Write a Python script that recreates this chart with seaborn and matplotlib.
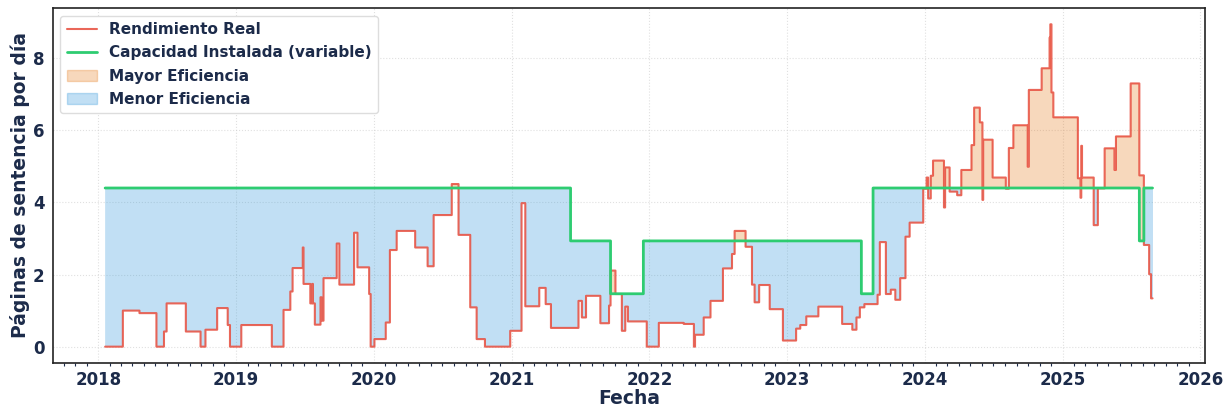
"""
Rendimiento real vs capacidad instalada (paginas de sentencia por dia)
Run: python plot.py  -> out.png
"""

import pandas as pd
import matplotlib.pyplot as plt
import matplotlib.dates as mdates
from matplotlib.lines import Line2D
from matplotlib.patches import Patch
import seaborn as sns

OUT_FILE = "out.png"

# Rendimiento real: fecha de cambio y valor desde esa fecha
REAL_FECHAS = [
    "2018-01-19", "2018-03-07", "2018-04-20", "2018-06-04", "2018-06-24",
    "2018-07-01", "2018-08-21", "2018-09-29", "2018-10-12", "2018-11-12",
    "2018-12-10", "2018-12-16", "2019-01-15", "2019-04-06", "2019-05-07",
    "2019-05-25", "2019-05-31", "2019-06-27", "2019-06-29", "2019-07-17",
    "2019-07-22", "2019-07-24", "2019-07-29", "2019-08-13", "2019-08-16",
    "2019-08-21", "2019-09-25", "2019-10-02", "2019-11-10", "2019-11-19",
    "2019-12-20", "2019-12-24", "2020-01-03", "2020-02-02", "2020-02-13",
    "2020-03-02", "2020-04-20", "2020-05-23", "2020-06-08", "2020-07-26",
    "2020-08-13", "2020-09-13", "2020-09-30", "2020-10-22", "2020-12-28",
    "2021-01-27", "2021-02-06", "2021-03-15", "2021-04-01", "2021-04-15",
    "2021-06-27", "2021-07-06", "2021-07-17", "2021-08-24", "2021-09-16",
    "2021-09-20", "2021-10-03", "2021-10-20", "2021-10-29", "2021-11-05",
    "2021-12-25", "2022-01-26", "2022-04-02", "2022-04-29", "2022-05-02",
    "2022-05-25", "2022-06-12", "2022-07-15", "2022-08-08", "2022-08-15",
    "2022-09-13", "2022-09-30", "2022-10-07", "2022-10-19", "2022-11-16",
    "2022-12-21", "2023-01-25", "2023-02-05", "2023-02-21", "2023-03-25",
    "2023-05-27", "2023-06-23", "2023-07-04", "2023-07-13", "2023-07-25",
    "2023-08-29", "2023-09-04", "2023-09-20", "2023-10-03", "2023-10-15",
    "2023-10-28", "2023-11-11", "2023-11-22", "2023-12-28", "2024-01-06",
    "2024-01-10", "2024-01-17", "2024-01-23", "2024-02-21", "2024-02-24",
    "2024-03-07", "2024-03-27", "2024-04-07", "2024-05-04", "2024-05-11",
    "2024-05-26", "2024-06-02", "2024-06-04", "2024-06-29", "2024-08-03",
    "2024-08-11", "2024-08-23", "2024-09-30", "2024-10-03", "2024-11-06",
    "2024-11-27", "2024-11-29", "2024-12-02", "2024-12-07", "2025-02-10",
    "2025-02-17", "2025-02-19", "2025-02-21", "2025-03-24", "2025-04-04",
    "2025-04-22", "2025-05-18", "2025-05-22", "2025-06-30", "2025-07-23",
    "2025-08-04", "2025-08-18", "2025-08-23", "2025-08-27",
]
REAL_VALORES = [
    0.00, 1.00, 0.93, 0.00, 0.42,
    1.20, 0.42, 0.00, 0.47, 1.07,
    0.60, 0.00, 0.60, 0.00, 1.02,
    1.53, 2.18, 2.75, 1.74, 1.20,
    1.74, 1.20, 0.61, 1.37, 0.72,
    1.90, 2.86, 1.72, 3.16, 2.20,
    1.46, 0.00, 0.21, 0.67, 2.68,
    3.21, 2.75, 2.23, 3.65, 4.51,
    3.10, 1.09, 0.21, 0.00, 0.44,
    3.98, 1.12, 1.63, 1.18, 0.52,
    1.27, 0.81, 1.41, 0.65, 1.14,
    2.11, 1.46, 0.44, 1.11, 0.70,
    0.00, 0.66, 0.63, 0.00, 0.33,
    0.81, 1.27, 2.17, 2.57, 3.21,
    2.77, 1.72, 1.23, 1.71, 1.04,
    0.17, 0.50, 0.60, 0.84, 1.11,
    0.63, 0.47, 0.81, 1.09, 1.18,
    1.44, 2.90, 1.46, 1.58, 1.30,
    1.90, 3.05, 3.44, 4.38, 4.69,
    4.11, 4.74, 5.16, 3.86, 4.97,
    4.30, 4.20, 4.90, 5.59, 6.63,
    6.22, 4.07, 5.74, 4.69, 4.38,
    5.51, 6.14, 4.99, 7.12, 7.72,
    8.57, 8.94, 7.05, 6.36, 4.67,
    4.13, 5.57, 4.69, 3.37, 4.39,
    5.50, 4.90, 5.83, 7.30, 4.75,
    2.82, 2.01, 1.34, 1.34,
]

# Capacidad instalada (variable)
CAP_FECHAS = [
    "2018-01-19", "2021-06-06", "2021-09-20", "2021-12-16", "2023-07-17",
    "2023-08-17", "2025-07-23", "2025-08-04", "2025-08-27",
]
CAP_VALORES = [4.400, 2.933, 1.467, 2.933, 1.467, 4.400, 2.933, 4.400, 4.400]

TEXTO = "#1c2b4a"
ROJO = "#e74c3c"
VERDE = "#2ecc71"
NARANJA = "#e67e22"
AZUL = "#3498db"


def main():
    sns.set_style("white")
    plt.rcParams["font.family"] = ["DejaVu Sans"]
    plt.rcParams["font.weight"] = "bold"
    plt.rcParams["axes.labelweight"] = "bold"
    plt.rcParams["text.color"] = TEXTO
    plt.rcParams["axes.labelcolor"] = TEXTO
    plt.rcParams["xtick.color"] = TEXTO
    plt.rcParams["ytick.color"] = TEXTO

    dias = pd.date_range(REAL_FECHAS[0], REAL_FECHAS[-1], freq="D")
    real = pd.Series(REAL_VALORES, index=pd.to_datetime(REAL_FECHAS)).reindex(dias, method="ffill")
    cap = pd.Series(CAP_VALORES, index=pd.to_datetime(CAP_FECHAS)).reindex(dias, method="ffill")
    df = pd.DataFrame({"Fecha": dias, "real": real.values, "cap": cap.values})

    fig, ax = plt.subplots(figsize=(12.27, 4.09), dpi=100)
    fig.subplots_adjust(left=0.043, right=0.982, bottom=0.113, top=0.98)

    ax.fill_between(df["Fecha"], df["real"], df["cap"], where=df["real"] >= df["cap"],
                    step="post", color=NARANJA, alpha=0.3, linewidth=0)
    ax.fill_between(df["Fecha"], df["real"], df["cap"], where=df["real"] < df["cap"],
                    step="post", color=AZUL, alpha=0.3, linewidth=0)

    sns.lineplot(data=df, x="Fecha", y="real", ax=ax, drawstyle="steps-post",
                 color=ROJO, linewidth=1.5, alpha=0.85)
    sns.lineplot(data=df, x="Fecha", y="cap", ax=ax, drawstyle="steps-post",
                 color=VERDE, linewidth=2)

    ax.set_xlabel("Fecha", fontsize=13.5, labelpad=0)
    ax.set_ylabel("Páginas de sentencia por día", fontsize=13.5, labelpad=2)
    ax.set_yticks([0, 2, 4, 6, 8])

    ax.xaxis.set_major_locator(mdates.YearLocator())
    ax.xaxis.set_major_formatter(mdates.DateFormatter("%Y"))
    ax.xaxis.set_minor_locator(mdates.MonthLocator())
    ax.tick_params(axis="both", which="major", labelsize=12, length=4, width=1, pad=2)
    ax.tick_params(axis="x", which="minor", length=2.5, width=0.8, bottom=True)

    ax.grid(True, which="major", linestyle=":", linewidth=0.8, color="#cccccc", alpha=0.6)
    for s in ax.spines.values():
        s.set_color("#222222")
        s.set_linewidth(1.2)

    handles = [
        Line2D([], [], color=ROJO, linewidth=1.5, alpha=0.85),
        Line2D([], [], color=VERDE, linewidth=2),
        Patch(facecolor=NARANJA, alpha=0.3, edgecolor=NARANJA),
        Patch(facecolor=AZUL, alpha=0.3, edgecolor=AZUL),
    ]
    labels = ["Rendimiento Real", "Capacidad Instalada (variable)",
              "Mayor Eficiencia", "Menor Eficiencia"]
    ax.legend(handles, labels, loc="upper left", fontsize=11, frameon=True,
              framealpha=1, edgecolor="#dddddd", borderpad=0.4, labelspacing=0.55)

    fig.savefig(OUT_FILE, dpi=100)
    plt.close(fig)


if __name__ == "__main__":
    main()
